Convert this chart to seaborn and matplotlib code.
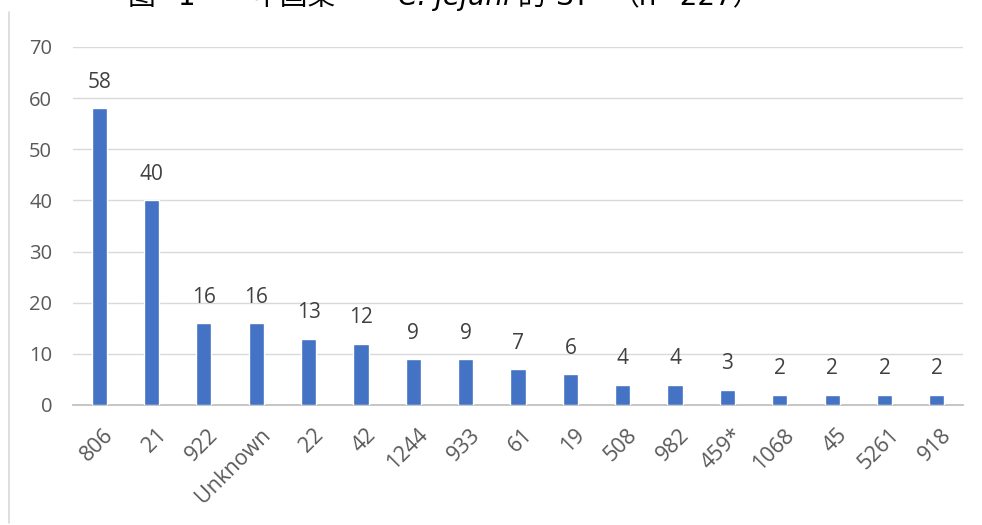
import matplotlib
matplotlib.use("Agg")
import matplotlib.pyplot as plt
import matplotlib.transforms as mtransforms
import seaborn as sns
import pandas as pd
from matplotlib.lines import Line2D

# sequence types and counts
st_types = ["806", "21", "922", "Unknown", "22", "42", "1244", "933", "61",
            "19", "508", "982", "459*", "1068", "45", "5261", "918"]
counts = [58, 40, 16, 16, 13, 12, 9, 9, 7, 6, 4, 4, 3, 2, 2, 2, 2]
y_ticks = [0, 10, 20, 30, 40, 50, 60, 70]
# title pieces (the source image only shows their lower edge)
title_parts = ["图", "1", "中国菜", "C. jejuni", "的", "ST", "（n=227）"]
title_x = [128, 178, 252, 398, 518, 555, 612]

df = pd.DataFrame({"st": st_types, "n": counts})

sns.set_theme(style="white")
plt.rcParams['font.family'] = ['Open Sans', 'Noto Sans CJK SC', 'DejaVu Sans']

W, H = 982, 525
fig = plt.figure(figsize=(W / 100, H / 100), dpi=100)
ax = fig.add_axes([73 / W, 1 - 405 / H, 890 / W, 358 / H])

sns.barplot(data=df, x="st", y="n", color="#4472C4", width=0.29,
            saturation=1, ax=ax, zorder=3)

ax.set_xlim(-0.5, len(st_types) - 0.5)
ax.set_ylim(0, 70)
ax.set_yticks(y_ticks)
ax.yaxis.grid(True, color="#d9d9d9", linewidth=1, zorder=0)
ax.set_xlabel("")
ax.set_ylabel("")
for s in ["top", "right", "left"]:
    ax.spines[s].set_visible(False)
ax.spines["bottom"].set_color("#bfbfbf")
ax.tick_params(axis="both", length=0, colors="#595959", labelsize=14.5)
ax.tick_params(axis="x", labelsize=15.5, pad=14)
ax.tick_params(axis="y", pad=15)
shift = mtransforms.ScaledTranslation(4 / 100, 0, fig.dpi_scale_trans)
for lab in ax.get_xticklabels():
    lab.set_rotation(45)
    lab.set_ha("right")
    lab.set_rotation_mode("anchor")
    lab.set_transform(lab.get_transform() + shift)

for c in ax.containers:
    ax.bar_label(c, labels=[str(v) for v in counts], padding=11,
                 color="#404040", fontsize=15)

# chart frame border on the left
fig.add_artist(Line2D([0.009, 0.009], [0.004, 1 - 12 / H], color="#d9d9d9",
                      linewidth=1.2, transform=fig.transFigure))

# title, cut off at the top in the source image
for txt, x in zip(title_parts, title_x):
    style = "italic" if "jejuni" in txt else "normal"
    fig.text(x / W, 1 - 5 / H, txt, fontsize=20, ha="left", va="baseline",
             style=style, family=['DejaVu Sans', 'Noto Sans CJK SC'],
             color="black")

fig.savefig("out.png", dpi=100)
